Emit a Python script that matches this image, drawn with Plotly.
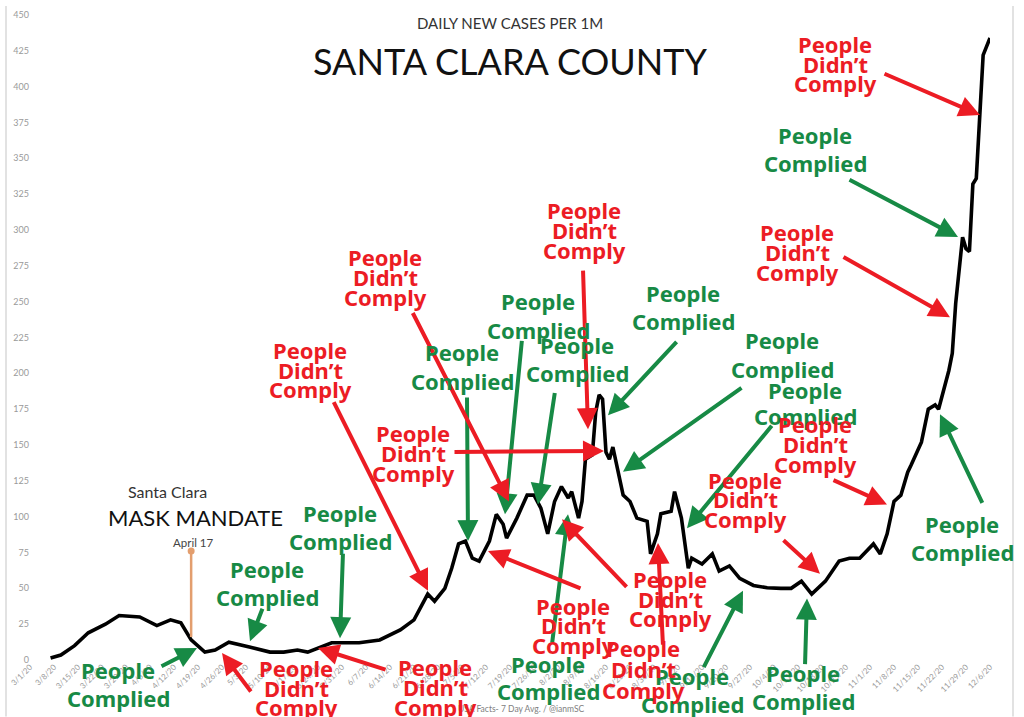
import plotly.graph_objects as go

# ---------------- data ----------------
dates = [
    "2020-03-07", "2020-03-10", "2020-03-14", "2020-03-18", "2020-03-23", "2020-03-27",
    "2020-04-02", "2020-04-07", "2020-04-11", "2020-04-14", "2020-04-17", "2020-04-21",
    "2020-04-24", "2020-04-28", "2020-05-04", "2020-05-10", "2020-05-14", "2020-05-18",
    "2020-05-21", "2020-05-25", "2020-05-28", "2020-06-05", "2020-06-11", "2020-06-17",
    "2020-06-21", "2020-06-25", "2020-06-27", "2020-06-30", "2020-07-02", "2020-07-04",
    "2020-07-06", "2020-07-08", "2020-07-10", "2020-07-13", "2020-07-15", "2020-07-17",
    "2020-07-18", "2020-07-21", "2020-07-24", "2020-07-26", "2020-07-28", "2020-07-30",
    "2020-08-01", "2020-08-03", "2020-08-05", "2020-08-06", "2020-08-08", "2020-08-09",
    "2020-08-10", "2020-08-12", "2020-08-13", "2020-08-14", "2020-08-15", "2020-08-16",
    "2020-08-17", "2020-08-18", "2020-08-21", "2020-08-23", "2020-08-25", "2020-08-28",
    "2020-08-29", "2020-08-31", "2020-09-01", "2020-09-04", "2020-09-05", "2020-09-07",
    "2020-09-09", "2020-09-10", "2020-09-13", "2020-09-16", "2020-09-18", "2020-09-21",
    "2020-09-24", "2020-09-28", "2020-10-02", "2020-10-06", "2020-10-09", "2020-10-12",
    "2020-10-15", "2020-10-19", "2020-10-23", "2020-10-26", "2020-10-29", "2020-11-02",
    "2020-11-04", "2020-11-06", "2020-11-08", "2020-11-10", "2020-11-12", "2020-11-13",
    "2020-11-16", "2020-11-18", "2020-11-20", "2020-11-21", "2020-11-24", "2020-11-25",
    "2020-11-26", "2020-11-28", "2020-11-29", "2020-11-30", "2020-12-01", "2020-12-02",
    "2020-12-03", "2020-12-04", "2020-12-06",
]
cases_per_1m = [
    1.4, 3.5, 10, 19, 25, 31,
    30, 24, 28, 26, 14, 5.5,
    7, 12.4, 9, 5.5, 5.5, 7,
    5.5, 9, 12, 12, 14, 21,
    28, 46, 41, 50, 64, 81,
    83, 71, 69, 83, 101.6, 94.7,
    85, 99, 115, 115, 106, 88,
    110.6, 121, 113, 117.5, 99, 110.6,
    140, 143, 173, 185, 182, 145,
    140, 148.6, 115, 110.6, 99, 96.8,
    74, 88, 102, 103.7, 117.5, 99,
    64, 71, 67, 74, 62, 65.6,
    57, 52, 50.4, 50, 50, 55,
    46, 55, 69, 71, 71, 81,
    74, 88, 110.6, 115, 131, 136,
    152, 175, 178, 175, 202, 214,
    249, 295, 287, 285, 332, 336,
    380, 422, 434,
]
y_tick_values = list(range(0, 451, 25))
mandate_date = "2020-04-17"
mandate_marker_top = 76
mandate_marker_bottom = 16

title_small = "DAILY NEW CASES PER 1M"
title_big = "SANTA CLARA COUNTY"
source_text = "USA Facts- 7 Day Avg. / @ianmSC"

# ---------------- layout helpers ----------------
W, H = 1024, 717
ML, MR, MT, MB = 30, 34, 9, 57
PW = W - ML - MR
PH = H - MT - MB


def xp(x):
    return (x - ML) / PW


def yp(y):
    return (H - MB - y) / PH


GREEN = "#178a45"
RED = "#ec1c24"
LABEL_FONT = "Noto Sans"
TITLE_FONT = "Lato"

fig = go.Figure()

fig.add_trace(go.Scatter(
    x=dates, y=cases_per_1m, mode="lines",
    line=dict(color="black", width=3.6),
    hoverinfo="skip", showlegend=False,
))

# mask mandate marker
fig.add_trace(go.Scatter(
    x=[mandate_date, mandate_date], y=[mandate_marker_top, mandate_marker_bottom],
    mode="lines", line=dict(color="#e39e6e", width=2.5),
    hoverinfo="skip", showlegend=False,
))
fig.add_trace(go.Scatter(
    x=[mandate_date], y=[mandate_marker_top], mode="markers",
    marker=dict(color="#e39e6e", size=7),
    hoverinfo="skip", showlegend=False,
))

annotations = []


def text(t, x, y, size, color, family=LABEL_FONT, weight="bold"):
    annotations.append(dict(
        text=t, x=xp(x), y=yp(y), xref="paper", yref="paper",
        xanchor="center", yanchor="middle", showarrow=False,
        font=dict(family=family, size=size, color=color, weight=weight),
    ))


def arrow(tail, head, color):
    annotations.append(dict(
        text="", x=xp(head[0]), y=yp(head[1]), xref="paper", yref="paper",
        ax=tail[0] - head[0], ay=tail[1] - head[1], axref="pixel", ayref="pixel",
        showarrow=True, arrowhead=2, arrowsize=1.05, arrowwidth=4,
        arrowcolor=color, standoff=0, startstandoff=0,
    ))


# arrows: (tail, head)
green_arrows = [
    ((160, 667), (197, 648)), ((263, 607), (250, 641)), ((343, 552), (340, 638)),
    ((467, 395), (468, 540)), ((522, 338), (505, 513)), ((555, 390), (538, 503)),
    ((678, 338), (608, 413)), ((743, 385), (623, 470)), ((773, 423), (687, 527)),
    ((983, 502), (940, 412)), ((848, 175), (958, 233)), ((552, 643), (568, 513)),
    ((703, 668), (743, 590)), ((805, 665), (807, 598)),
]
red_arrows = [
    ((333, 400), (428, 590)), ((412, 310), (509, 500)), ((583, 267), (588, 427)),
    ((453, 450), (604, 449)), ((582, 588), (488, 550)), ((628, 587), (562, 518)),
    ((663, 645), (658, 542)), ((782, 538), (820, 573)), ((832, 478), (887, 503)),
    ((842, 253), (950, 314)), ((883, 68), (980, 110)), ((252, 693), (222, 653)),
    ((387, 670), (318, 648)),
]
for t, h in green_arrows:
    arrow(t, h, GREEN)
for t, h in red_arrows:
    arrow(t, h, RED)

# source note
text(source_text, 521, 709, 8.5, "#808080", family=TITLE_FONT, weight="normal")

# green labels: (cx, y line1, y line2)
green_labels = [
    (118, 670, 698), (267, 568, 596), (340, 512, 540), (462, 349, 378),
    (538, 298, 327), (577, 342, 370), (683, 290, 318), (782, 337, 366),
    (805, 387, 414), (962, 523, 551), (815, 130, 158), (548, 664, 691),
    (692, 676, 704), (803, 673, 701),
]
for cx, y1, y2 in green_labels:
    text("People", cx, y1, 22, GREEN)
    text("Complied", cx, y2, 22, GREEN)

# red labels: (cx, y line1, y line2, y line3)
red_labels = [
    (310, 347, 367, 386), (385, 253, 273, 294), (584, 206, 226, 246),
    (413, 431, 451, 471), (573, 605, 625, 645), (670, 578, 598, 618),
    (643, 648, 669, 690), (745, 478, 498, 518), (815, 422, 442, 462),
    (797, 228, 248, 268), (835, 38, 58, 78), (296, 668, 688, 707),
    (435, 667, 687, 707),
]
for cx, y1, y2, y3 in red_labels:
    text("People", cx, y1, 22, RED)
    text("Didn’t", cx, y2, 22, RED)
    text("Comply", cx, y3, 22, RED)

# titles
text(title_small, 510, 17, 15, "#333333", family=TITLE_FONT, weight="normal")
text(title_big, 510, 55, 36, "#111111", family=TITLE_FONT, weight="normal")
text("Santa Clara", 167, 490, 16, "#333333", family=TITLE_FONT, weight="normal")
text("MASK MANDATE", 195, 516, 22, "#111111", family=TITLE_FONT, weight="normal")
text("April 17", 193, 541, 11.5, "#444444", family=TITLE_FONT, weight="normal")

fig.update_layout(
    width=W, height=H,
    margin=dict(l=ML, r=MR, t=MT, b=MB),
    paper_bgcolor="white", plot_bgcolor="white",
    showlegend=False,
    annotations=annotations,
    shapes=[
        dict(type="line", xref="paper", yref="paper", x0=xp(6), x1=xp(6), y0=yp(0), y1=yp(717),
             line=dict(color="#e2e2e2", width=2)),
        dict(type="line", xref="paper", yref="paper", x0=xp(1013), x1=xp(1013), y0=yp(0), y1=yp(717),
             line=dict(color="#e2e2e2", width=2)),
    ],
    xaxis=dict(
        type="date", range=["2020-03-01", "2020-12-06"],
        tick0="2020-03-01", dtick=7 * 86400000, tickformat="%-m/%-d/%y",
        tickangle=-45, tickfont=dict(family=TITLE_FONT, size=8, color="#9a9a9a"),
        showgrid=False, zeroline=False, showline=False, ticks="",
    ),
    yaxis=dict(
        range=[0, 450], tickvals=y_tick_values,
        tickfont=dict(family=TITLE_FONT, size=9, color="#9a9a9a"),
        showgrid=False, zeroline=False, showline=False, ticks="",
    ),
)

fig.write_html(
    "out.html",
    config={"displayModeBar": False},
    post_script="document.body.style.margin='0';document.body.style.overflow='hidden';",
)
